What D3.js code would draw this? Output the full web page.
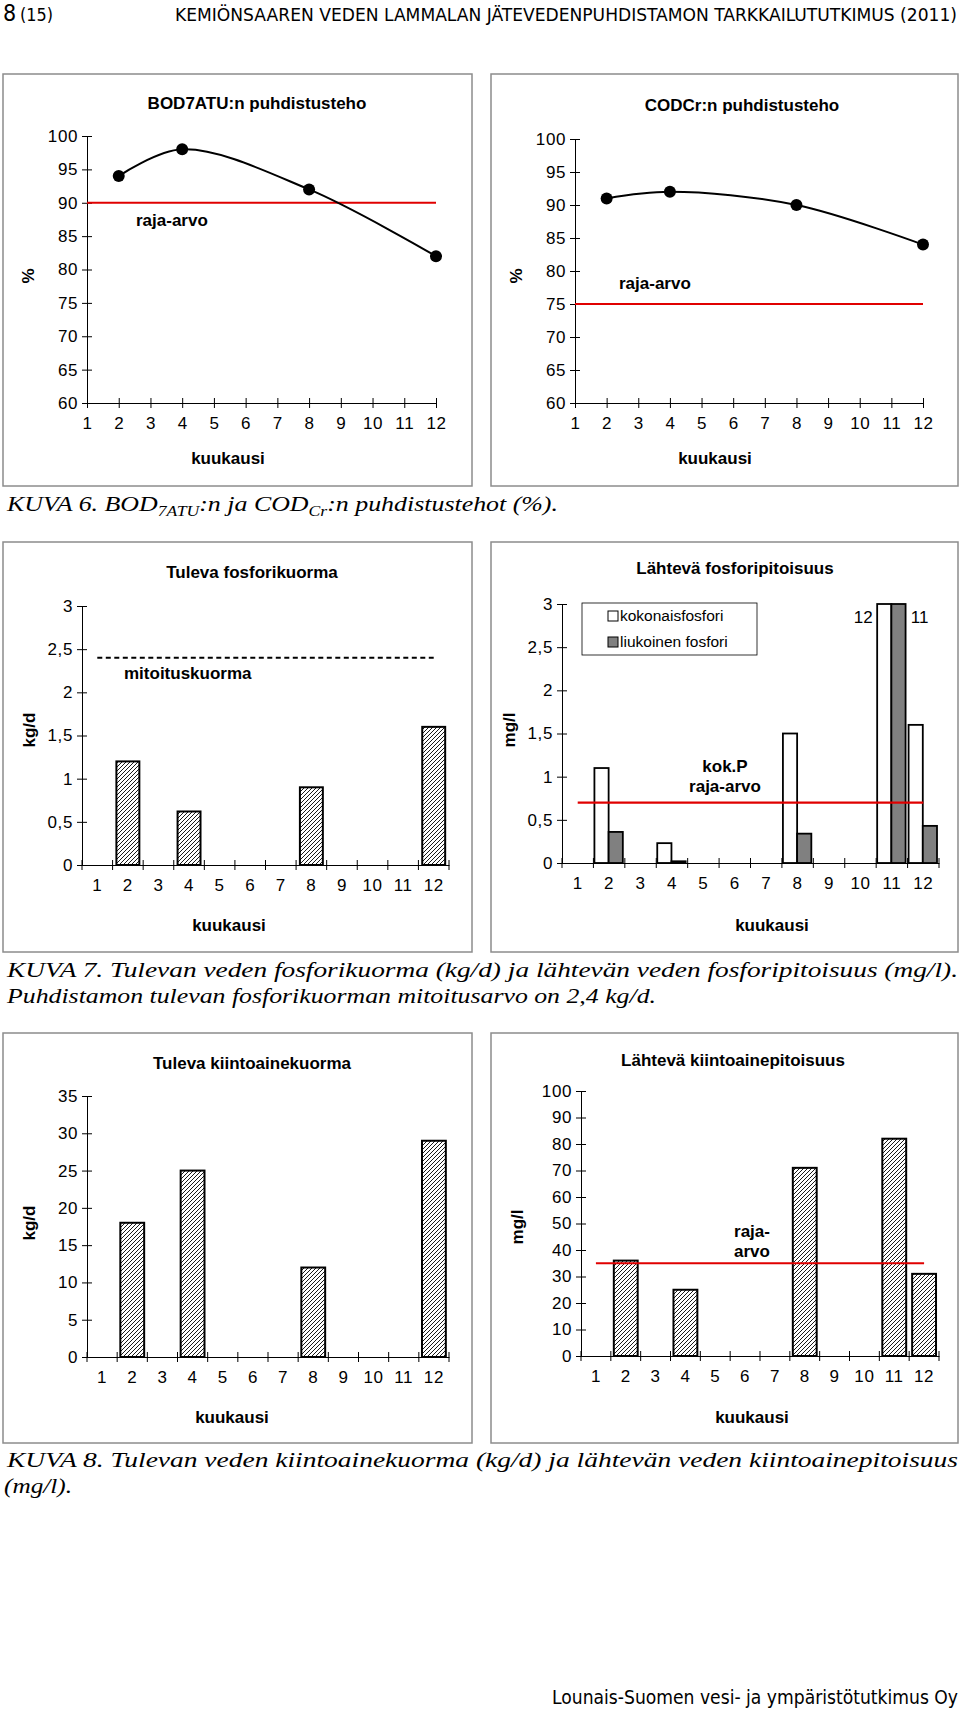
<!DOCTYPE html>
<html>
<head>
<meta charset="utf-8">
<script src="https://cdn.jsdelivr.net/npm/d3@7.9.0/dist/d3.min.js"></script>
<style>
  html, body { margin: 0; padding: 0; background: #fff; }
  svg text { font-family: "Liberation Sans", Arial, sans-serif; fill: #000; }
  .narrow { font-family: "Liberation Sans Narrow", "Arial Narrow", "DejaVu Sans Condensed", sans-serif; }
  .caption { font-family: "Liberation Serif", "Times New Roman", Times, serif; font-style: italic; font-size: 22px; }
  .title, .axis-label, .note { font-weight: bold; font-size: 17px; }
  .tick text { font-size: 17px; letter-spacing: 0.6px; font-family: "Liberation Sans", Arial, sans-serif; }
</style>
</head>
<body>
<svg id="page" width="960" height="1711"></svg>
<script>
// === Data ===
const months = [1, 2, 3, 4, 5, 6, 7, 8, 9, 10, 11, 12];

const bodMonths = [2, 4, 8, 12];
const bodValues = [94, 98, 92, 82];
const bodLimit = 90;

const codMonths = [2, 4, 8, 12];
const codValues = [91, 92, 90, 84];
const codLimit = 75;

const pLoadMonths = [2, 4, 8, 12];
const pLoadValues = [1.2, 0.62, 0.9, 1.6];
const pDesignLoad = 2.4;

const pOutMonths = [2, 4, 8, 11, 12];
const totalP = [1.1, 0.23, 1.5, 12, 1.6];
const dissolvedP = [0.36, 0.02, 0.34, 11, 0.43];
const pLimit = 0.7;

const ssLoadMonths = [2, 4, 8, 12];
const ssLoadValues = [18, 25, 12, 29];

const ssOutMonths = [2, 4, 8, 11, 12];
const ssOutValues = [36, 25, 71, 82, 31];
const ssLimit = 35;

const pctTicks = [60, 65, 70, 75, 80, 85, 90, 95, 100];
const pTicks = [0, 0.5, 1, 1.5, 2, 2.5, 3];
const ssLoadTicks = [0, 5, 10, 15, 20, 25, 30, 35];
const ssOutTicks = [0, 10, 20, 30, 40, 50, 60, 70, 80, 90, 100];

const svg = d3.select('#page');
const comma = (d) => String(d).replace('.', ',');

// hatch fill used by the single-series bars
const defs = svg.append('defs');
const hatch = defs.append('pattern')
  .attr('id', 'hatch')
  .attr('patternUnits', 'userSpaceOnUse')
  .attr('width', 4).attr('height', 4);
hatch.append('rect').attr('width', 4).attr('height', 4).attr('fill', '#fff');
hatch.append('path')
  .attr('d', 'M-1,1 l2,-2 M0,4 l4,-4 M3,5 l2,-2')
  .attr('stroke', '#000').attr('stroke-width', 0.9);

// === Page header / footer ===
svg.append('text').attr('class', 'narrow').attr('x', 3).attr('y', 21)
  .style('font-size', '23px').text('8');
svg.append('text').attr('class', 'narrow').attr('x', 20).attr('y', 21)
  .style('font-size', '17px').attr('textLength', 33).attr('lengthAdjust', 'spacingAndGlyphs')
  .text('(15)');
svg.append('text').attr('class', 'narrow').attr('x', 175).attr('y', 21)
  .style('font-size', '18px').attr('textLength', 782).attr('lengthAdjust', 'spacingAndGlyphs')
  .text('KEMIÖNSAAREN VEDEN LAMMALAN JÄTEVEDENPUHDISTAMON TARKKAILUTUTKIMUS (2011)');
svg.append('text').attr('class', 'narrow').attr('x', 552).attr('y', 1704)
  .style('font-size', '19px').attr('textLength', 406).attr('lengthAdjust', 'spacingAndGlyphs')
  .text('Lounais-Suomen vesi- ja ympäristötutkimus Oy');

// === Helpers ===
function box(x0, y0, x1, y1) {
  svg.append('rect')
    .attr('x', x0).attr('y', y0)
    .attr('width', x1 - x0).attr('height', y1 - y0)
    .attr('fill', '#fff').attr('stroke', '#8c8c8c').attr('stroke-width', 1.5);
}

function labels(c) {
  svg.append('text').attr('class', 'title')
    .attr('x', c.titleX).attr('y', c.titleY + 6)
    .attr('text-anchor', 'middle').text(c.title);
  svg.append('text').attr('class', 'axis-label')
    .attr('transform', `translate(${c.yLabelX + 6},${c.yLabelY}) rotate(-90)`)
    .attr('text-anchor', 'middle').text(c.yLabel);
  svg.append('text').attr('class', 'axis-label')
    .attr('x', c.xLabelX).attr('y', c.xLabelY + 6)
    .attr('text-anchor', 'middle').text('kuukausi');
}

function yAxis(y, x0, ticks) {
  const g = svg.append('g')
    .attr('transform', `translate(${x0},0)`)
    .call(d3.axisLeft(y).tickValues(ticks).tickFormat(comma).tickSizeInner(5).tickSizeOuter(0).tickPadding(4));
  g.selectAll('.tick line').attr('x1', 5);
  g.select('.domain').attr('stroke', '#000');
  return g;
}

function note(x, y, lines, anchor) {
  lines.forEach((t, i) => {
    svg.append('text').attr('class', 'note')
      .attr('x', x).attr('y', y + i * 20)
      .attr('text-anchor', anchor).text(t);
  });
}

// line chart with months on tick marks
function lineChart(c) {
  box(c.box[0], c.box[1], c.box[2], c.box[3]);
  labels(c);
  const x = d3.scaleLinear().domain([1, 12]).range([c.x0, c.x1]);
  const y = d3.scaleLinear().domain([60, 100]).range([c.yBottom, c.yTop]);

  yAxis(y, c.x0, pctTicks);
  const gx = svg.append('g')
    .attr('transform', `translate(0,${c.yBottom})`)
    .call(d3.axisBottom(x).tickValues(months).tickFormat(d3.format('d')).tickSizeInner(5).tickSizeOuter(0).tickPadding(9));
  gx.selectAll('.tick line').attr('y1', -5);

  // limit line
  svg.append('line')
    .attr('x1', x(1)).attr('x2', x(12))
    .attr('y1', y(c.limit)).attr('y2', y(c.limit))
    .attr('stroke', '#e00000').attr('stroke-width', 2.2);

  const pts = c.months.map((m, i) => [m, c.values[i]]);
  svg.append('path')
    .attr('d', d3.line().x((d) => x(d[0])).y((d) => y(d[1])).curve(d3.curveCatmullRom.alpha(0.5))(pts))
    .attr('fill', 'none').attr('stroke', '#000').attr('stroke-width', 2);
  svg.selectAll(null).data(pts).join('circle')
    .attr('cx', (d) => x(d[0])).attr('cy', (d) => y(d[1]))
    .attr('r', 6).attr('fill', '#000');

  note(c.noteX, c.noteY, ['raja-arvo'], 'start');
}

// bar chart with months between tick marks
function bandAxis(xb, yBase) {
  const g = svg.append('g')
    .attr('transform', `translate(0,${yBase})`)
    .call(d3.axisBottom(xb).tickSize(0).tickPadding(14).tickFormat(d3.format('d')));
  g.select('.domain').attr('stroke', '#000');
  const step = xb.step();
  const x0 = xb.range()[0];
  g.selectAll('line.bt').data(d3.range(months.length + 1)).join('line')
    .attr('class', 'bt')
    .attr('x1', (i) => x0 + i * step).attr('x2', (i) => x0 + i * step)
    .attr('y1', -5).attr('y2', 5).attr('stroke', '#000');
}

function hatchBars(xb, y, ms, vs, frac) {
  const w = xb.step() * frac;
  svg.selectAll(null).data(ms.map((m, i) => [m, vs[i]])).join('rect')
    .attr('x', (d) => xb(d[0]) + xb.step() / 2 - w / 2)
    .attr('y', (d) => y(d[1]))
    .attr('width', w)
    .attr('height', (d) => y(0) - y(d[1]))
    .attr('fill', 'url(#hatch)').attr('stroke', '#000').attr('stroke-width', 2);
}

function barFrame(c) {
  box(c.box[0], c.box[1], c.box[2], c.box[3]);
  labels(c);
  const xb = d3.scaleBand().domain(months).range([c.x0, c.x1]).padding(0);
  const y = d3.scaleLinear().domain([0, c.yMax]).range([c.yBottom, c.yTop]);
  yAxis(y, c.x0, c.ticks);
  return { xb, y };
}

// === KUVA 6 ===
lineChart({
  box: [3, 74, 472, 486],
  title: 'BOD7ATU:n puhdistusteho', titleX: 257, titleY: 103,
  yLabel: '%', yLabelX: 28, yLabelY: 276,
  xLabelX: 228, xLabelY: 458,
  x0: 87, x1: 436, yTop: 136, yBottom: 403,
  months: bodMonths, values: bodValues, limit: bodLimit,
  noteX: 136, noteY: 226,
});

lineChart({
  box: [491, 74, 958, 486],
  title: 'CODCr:n puhdistusteho', titleX: 742, titleY: 105,
  yLabel: '%', yLabelX: 516, yLabelY: 276,
  xLabelX: 715, xLabelY: 458,
  x0: 575, x1: 923, yTop: 139, yBottom: 403,
  months: codMonths, values: codValues, limit: codLimit,
  noteX: 619, noteY: 289,
});

const cap6 = svg.append('text').attr('class', 'caption').attr('x', 7).attr('y', 511)
  .attr('textLength', 551).attr('lengthAdjust', 'spacingAndGlyphs');
cap6.append('tspan').text('KUVA 6. BOD');
cap6.append('tspan').attr('dy', 5).style('font-size', '15px').text('7ATU');
cap6.append('tspan').attr('dy', -5).text(':n ja COD');
cap6.append('tspan').attr('dy', 5).style('font-size', '15px').text('Cr');
cap6.append('tspan').attr('dy', -5).text(':n puhdistustehot (%).');

// === KUVA 7, left: Tuleva fosforikuorma ===
{
  const c = {
    box: [3, 542, 472, 952],
    title: 'Tuleva fosforikuorma', titleX: 252, titleY: 572,
    yLabel: 'kg/d', yLabelX: 29, yLabelY: 730,
    xLabelX: 229, xLabelY: 925,
    x0: 82, x1: 449, yTop: 606, yBottom: 865, yMax: 3, ticks: pTicks,
  };
  const { xb, y } = barFrame(c);
  hatchBars(xb, y, pLoadMonths, pLoadValues, 0.75);
  bandAxis(xb, c.yBottom);
  svg.append('line')
    .attr('x1', xb(1) + xb.step() / 2).attr('x2', xb(12) + xb.step() / 2)
    .attr('y1', y(pDesignLoad)).attr('y2', y(pDesignLoad))
    .attr('stroke', '#000').attr('stroke-width', 2).attr('stroke-dasharray', '5,3.5');
  note(124, 679, ['mitoituskuorma'], 'start');
}

// === KUVA 7, right: Lähtevä fosforipitoisuus ===
{
  const c = {
    box: [491, 542, 958, 952],
    title: 'Lähtevä fosforipitoisuus', titleX: 735, titleY: 568,
    yLabel: 'mg/l', yLabelX: 509, yLabelY: 730,
    xLabelX: 772, xLabelY: 925,
    x0: 562, x1: 939, yTop: 604, yBottom: 863, yMax: 3, ticks: pTicks,
  };
  const { xb, y } = barFrame(c);
  const sub = d3.scaleBand().domain(['tot', 'liu']).range([1, xb.step() - 2]).padding(0);
  const series = [
    { key: 'tot', values: totalP, fill: '#fff' },
    { key: 'liu', values: dissolvedP, fill: '#808080' },
  ];
  series.forEach((s) => {
    svg.selectAll(null).data(pOutMonths.map((m, i) => [m, s.values[i]])).join('rect')
      .attr('x', (d) => xb(d[0]) + sub(s.key))
      .attr('y', (d) => y(Math.min(d[1], c.yMax)))
      .attr('width', sub.bandwidth())
      .attr('height', (d) => y(0) - y(Math.min(d[1], c.yMax)))
      .attr('fill', s.fill).attr('stroke', '#000').attr('stroke-width', 1.8);
  });
  // values running off the top get a number
  pOutMonths.forEach((m, i) => {
    if (totalP[i] > c.yMax) {
      svg.append('text').attr('x', xb(m) + sub('tot') - 14).attr('y', 623)
        .attr('text-anchor', 'middle').style('font-size', '17px').text(totalP[i]);
    }
    if (dissolvedP[i] > c.yMax) {
      svg.append('text').attr('x', xb(m) + sub('liu') + sub.bandwidth() + 14).attr('y', 623)
        .attr('text-anchor', 'middle').style('font-size', '17px').text(dissolvedP[i]);
    }
  });
  bandAxis(xb, c.yBottom);
  svg.append('line')
    .attr('x1', xb(1) + xb.step() / 2).attr('x2', xb(12) + xb.step() / 2)
    .attr('y1', y(pLimit)).attr('y2', y(pLimit))
    .attr('stroke', '#e00000').attr('stroke-width', 2.2);
  note(725, 772, ['kok.P', 'raja-arvo'], 'middle');

  // legend
  svg.append('rect').attr('x', 582).attr('y', 603).attr('width', 175).attr('height', 52)
    .attr('fill', '#fff').attr('stroke', '#000').attr('stroke-width', 0.8);
  [['kokonaisfosfori', '#fff'], ['liukoinen fosfori', '#808080']].forEach(([t, f], i) => {
    const cy = 616 + i * 26;
    svg.append('rect').attr('x', 608).attr('y', cy - 5).attr('width', 10).attr('height', 10)
      .attr('fill', f).attr('stroke', '#000').attr('stroke-width', 1);
    svg.append('text').attr('x', 620).attr('y', cy + 5).style('font-size', '15.5px').text(t);
  });
}

svg.append('text').attr('class', 'caption').attr('x', 7).attr('y', 977)
  .attr('textLength', 951).attr('lengthAdjust', 'spacingAndGlyphs')
  .text('KUVA 7. Tulevan veden fosforikuorma (kg/d) ja lähtevän veden fosforipitoisuus (mg/l).');
svg.append('text').attr('class', 'caption').attr('x', 7).attr('y', 1003)
  .attr('textLength', 649).attr('lengthAdjust', 'spacingAndGlyphs')
  .text('Puhdistamon tulevan fosforikuorman mitoitusarvo on 2,4 kg/d.');

// === KUVA 8, left: Tuleva kiintoainekuorma ===
{
  const c = {
    box: [3, 1033, 472, 1443],
    title: 'Tuleva kiintoainekuorma', titleX: 252, titleY: 1063,
    yLabel: 'kg/d', yLabelX: 29, yLabelY: 1223,
    xLabelX: 232, xLabelY: 1417,
    x0: 87, x1: 449, yTop: 1096, yBottom: 1357, yMax: 35, ticks: ssLoadTicks,
  };
  const { xb, y } = barFrame(c);
  hatchBars(xb, y, ssLoadMonths, ssLoadValues, 0.79);
  bandAxis(xb, c.yBottom);
}

// === KUVA 8, right: Lähtevä kiintoainepitoisuus ===
{
  const c = {
    box: [491, 1033, 958, 1443],
    title: 'Lähtevä kiintoainepitoisuus', titleX: 733, titleY: 1060,
    yLabel: 'mg/l', yLabelX: 517, yLabelY: 1227,
    xLabelX: 752, xLabelY: 1417,
    x0: 581, x1: 939, yTop: 1091, yBottom: 1356, yMax: 100, ticks: ssOutTicks,
  };
  const { xb, y } = barFrame(c);
  hatchBars(xb, y, ssOutMonths, ssOutValues, 0.8);
  bandAxis(xb, c.yBottom);
  svg.append('line')
    .attr('x1', xb(1) + xb.step() / 2).attr('x2', xb(12) + xb.step() / 2)
    .attr('y1', y(ssLimit)).attr('y2', y(ssLimit))
    .attr('stroke', '#e00000').attr('stroke-width', 2.2);
  note(752, 1237, ['raja-', 'arvo'], 'middle');
}

svg.append('text').attr('class', 'caption').attr('x', 7).attr('y', 1467)
  .attr('textLength', 951).attr('lengthAdjust', 'spacingAndGlyphs')
  .text('KUVA 8. Tulevan veden kiintoainekuorma (kg/d) ja lähtevän veden kiintoainepitoisuus');
svg.append('text').attr('class', 'caption').attr('x', 4).attr('y', 1493)
  .attr('textLength', 68).attr('lengthAdjust', 'spacingAndGlyphs')
  .text('(mg/l).');
</script>
</body>
</html>
